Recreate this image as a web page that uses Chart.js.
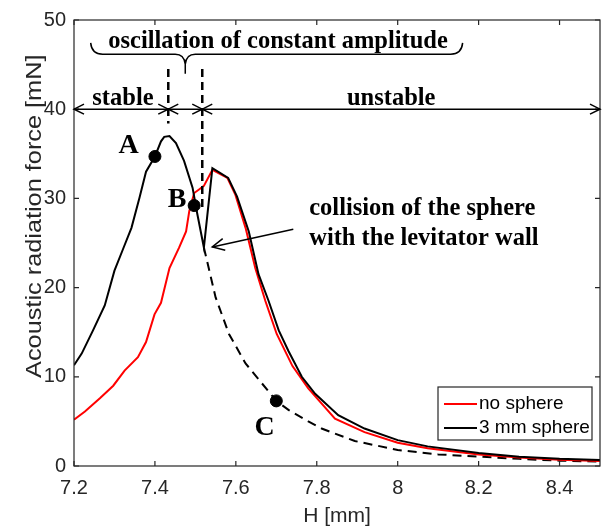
<!DOCTYPE html>
<html><head><meta charset="utf-8">
<script src="https://cdn.jsdelivr.net/npm/chart.js@4.4.1/dist/chart.umd.min.js"></script>
<style>html,body{margin:0;padding:0;background:#fff;overflow:hidden}canvas{display:block}</style>
</head><body>
<canvas id="c" width="607" height="529"></canvas>
<script>
// ---- data ----
const hNoSphere = [7.200,7.227,7.264,7.297,7.325,7.358,7.378,7.399,7.415,7.436,7.460,7.477,7.485,7.497,7.509,7.521,7.542,7.579,7.599,7.624,7.648,7.673,7.701,7.740,7.779,7.845,7.918,8.000,8.074,8.200,8.300,8.400,8.500];
const fNoSphere = [5.2,6.1,7.6,9.0,10.7,12.2,13.9,17.0,18.3,22.2,24.5,26.3,28.6,30.6,31.0,31.4,33.2,32.3,30.4,26.7,22.2,18.5,14.8,11.2,8.7,5.3,3.8,2.6,2.0,1.3,0.95,0.7,0.55];
const hSphere = [7.200,7.219,7.247,7.276,7.300,7.321,7.342,7.362,7.378,7.400,7.415,7.423,7.436,7.452,7.472,7.493,7.505,7.521,7.542,7.581,7.603,7.632,7.656,7.681,7.706,7.730,7.763,7.796,7.853,7.918,8.000,8.074,8.200,8.300,8.400,8.500];
const fSphere = [11.3,12.6,15.2,18.0,21.9,24.3,26.7,30.1,33.0,34.7,36.4,36.9,37.0,36.2,34.2,31.2,28.2,24.5,33.4,32.3,30.2,26.3,21.5,18.5,15.2,12.9,10.0,8.1,5.7,4.2,2.9,2.2,1.45,1.05,0.8,0.68];
const hFreeField = [7.521,7.550,7.583,7.624,7.700,7.730,7.779,7.812,7.894,8.000,8.100,8.200,8.300,8.400,8.500];
const fFreeField = [24.5,18.9,14.8,11.5,7.3,6.3,5.0,4.2,2.8,1.8,1.3,1.05,0.8,0.6,0.5];
const pointNames = ['A','B','C'];
const hPoints = [7.400,7.497,7.700];
const fPoints = [34.7,29.2,7.3];
const xTicks = [7.2,7.4,7.6,7.8,8.0,8.2,8.4];
const xTickLabels = ['7.2','7.4','7.6','7.8','8','8.2','8.4'];
const yTicks = [0,10,20,30,40,50];
const seriesNames = ['no sphere','3 mm sphere'];
const xTitle = 'H [mm]';
const yTitle = 'Acoustic radiation force [mN]';
const regionNames = ['stable','unstable'];
const bracketName = 'oscillation of constant amplitude';
const collisionNote = ['collision of the sphere','with the levitator wall'];
const regionBounds = [7.2, 7.433, 7.517, 8.5];

const pts = (hs, fs) => hs.map((h, i) => ({x: h, y: fs[i]}));
const AX = '#262626';
const SANS = '"Liberation Sans", Arial, sans-serif';
const SERIF = '"Liberation Serif", "Times New Roman", serif';

const deco = {
  id: 'deco',
  afterDatasetsDraw(chart) {
    const {ctx, chartArea: a, scales: {x, y}} = chart;
    const X = v => x.getPixelForValue(v), Y = v => y.getPixelForValue(v);
    ctx.save();
    // axes box + inward ticks
    ctx.strokeStyle = AX; ctx.lineWidth = 1.2; ctx.setLineDash([]);
    ctx.strokeRect(a.left, a.top, a.right - a.left, a.bottom - a.top);
    ctx.beginPath();
    xTicks.forEach(v => { const p = X(v); ctx.moveTo(p, a.bottom); ctx.lineTo(p, a.bottom - 5); ctx.moveTo(p, a.top); ctx.lineTo(p, a.top + 5); });
    yTicks.forEach(v => { const p = Y(v); ctx.moveTo(a.left, p); ctx.lineTo(a.left + 5, p); ctx.moveTo(a.right, p); ctx.lineTo(a.right - 5, p); });
    ctx.stroke();

    // y title (stretched like the reference)
    ctx.save();
    ctx.translate(a.left - 39, Y(28.0));
    ctx.rotate(-Math.PI / 2);
    ctx.scale(1.15, 1);
    ctx.fillStyle = AX; ctx.font = '22px ' + SANS;
    ctx.textAlign = 'center'; ctx.textBaseline = 'middle';
    ctx.fillText(yTitle, 0, 0);
    ctx.restore();

    // annotations
    ctx.strokeStyle = '#000'; ctx.fillStyle = '#000';
    const head = (tx, ty, fx, fy, len, hw) => {
      const ang = Math.atan2(ty - fy, tx - fx);
      const c = Math.cos(ang), s = Math.sin(ang);
      ctx.beginPath();
      ctx.moveTo(tx - c * len - s * hw, ty - s * len + c * hw);
      ctx.lineTo(tx, ty);
      ctx.lineTo(tx - c * len + s * hw, ty - s * len - c * hw);
      ctx.stroke();
    };
    // region arrows at F = 40
    const ya = Y(40);
    ctx.lineWidth = 1.5;
    for (let i = 0; i < 3; i++) {
      const x0 = X(regionBounds[i]), x1 = X(regionBounds[i + 1]);
      ctx.beginPath(); ctx.moveTo(x0, ya); ctx.lineTo(x1, ya); ctx.stroke();
      head(x0, ya, x1, ya, 10, 5);
      head(x1, ya, x0, ya, 10, 5);
    }
    // dashed region boundaries
    ctx.lineWidth = 2.5; ctx.setLineDash([8, 5]);
    ctx.beginPath();
    ctx.moveTo(X(regionBounds[1]), Y(44.5)); ctx.lineTo(X(regionBounds[1]), Y(38.4));
    ctx.moveTo(X(regionBounds[2]), Y(44.5)); ctx.lineTo(X(regionBounds[2]), Y(28.6));
    ctx.stroke();
    ctx.setLineDash([]);

    // curly brace
    const bL = X(7.2412), bR = X(8.1605), bM = X((regionBounds[1] + regionBounds[2]) / 2);
    const yEnd = Y(47.44), yLine = Y(46.17), yTip = Y(43.98);
    ctx.lineWidth = 1.5;
    ctx.beginPath();
    ctx.moveTo(bL, yEnd);
    ctx.quadraticCurveTo(bL + 1, yLine, bL + 12, yLine);
    ctx.lineTo(bM - 10, yLine);
    ctx.quadraticCurveTo(bM - 1, yLine, bM, yLine + 10);
    ctx.lineTo(bM, yTip);
    ctx.moveTo(bM, yLine + 10);
    ctx.quadraticCurveTo(bM + 1, yLine, bM + 10, yLine);
    ctx.lineTo(bR - 12, yLine);
    ctx.quadraticCurveTo(bR - 1, yLine, bR, yEnd);
    ctx.stroke();

    // texts
    ctx.font = 'bold 24.5px ' + SERIF;
    ctx.textBaseline = 'alphabetic'; ctx.textAlign = 'center';
    ctx.fillText(bracketName, X(7.7043), Y(46.9));
    ctx.fillText(regionNames[0], X(7.321), Y(40.45));
    ctx.fillText(regionNames[1], X(7.984), Y(40.45));
    ctx.textAlign = 'left';
    ctx.fillText(collisionNote[0], X(7.7813), Y(28.1));
    ctx.fillText(collisionNote[1], X(7.7813), Y(24.75));

    // collision arrow
    ctx.lineWidth = 1.5;
    const tx = X(7.5417), ty = Y(24.55), fx = X(7.742), fy = Y(26.53);
    ctx.beginPath(); ctx.moveTo(fx, fy); ctx.lineTo(tx, ty); ctx.stroke();
    head(tx, ty, fx, fy, 12, 6);

    // point letters
    ctx.font = 'bold 28px ' + SERIF;
    ctx.textAlign = 'center'; ctx.textBaseline = 'middle';
    const letterPos = [[7.335, 36.05], [7.455, 30.0], [7.671, 4.4]];
    pointNames.forEach((n, i) => ctx.fillText(n, X(letterPos[i][0]), Y(letterPos[i][1]) + 1));

    // legend
    const lx = a.right - 162, ly = a.bottom - 79, lw = 154, lh = 53;
    ctx.fillStyle = '#fff'; ctx.fillRect(lx, ly, lw, lh);
    ctx.strokeStyle = AX; ctx.lineWidth = 1.2; ctx.strokeRect(lx, ly, lw, lh);
    const legendSets = [chart.data.datasets[2], chart.data.datasets[1]];
    ctx.font = '19px ' + SANS; ctx.textAlign = 'left'; ctx.textBaseline = 'middle';
    legendSets.forEach((ds, i) => {
      const yy = ly + 17 + i * 24;
      ctx.strokeStyle = ds.borderColor; ctx.lineWidth = 2;
      ctx.beginPath(); ctx.moveTo(lx + 6, yy); ctx.lineTo(lx + 39, yy); ctx.stroke();
      ctx.fillStyle = '#000';
      ctx.fillText(ds.label, lx + 41, yy);
    });
    ctx.restore();
  }
};

new Chart(document.getElementById('c'), {
  type: 'line',
  data: {
    datasets: [
      {label: 'points', data: pts(hPoints, fPoints), showLine: false, pointRadius: 6, pointBackgroundColor: '#000', pointBorderColor: '#000', borderColor: '#000', order: 0},
      {label: seriesNames[1], data: pts(hSphere, fSphere), borderColor: '#000', borderWidth: 2, pointRadius: 0, tension: 0, order: 1},
      {label: seriesNames[0], data: pts(hNoSphere, fNoSphere), borderColor: '#ff0000', borderWidth: 2, pointRadius: 0, tension: 0, order: 2},
      {label: 'free', data: pts(hFreeField, fFreeField), borderColor: '#000', borderWidth: 2, borderDash: [9, 6], pointRadius: 0, tension: 0, order: 3}
    ]
  },
  options: {
    responsive: false, animation: false, devicePixelRatio: 1,
    layout: {padding: {top: 18, right: 3, left: 0, bottom: 0}},
    plugins: {legend: {display: false}, tooltip: {enabled: false}},
    scales: {
      x: {
        type: 'linear', min: 7.2, max: 8.5,
        afterBuildTicks: s => { s.ticks = xTicks.map(v => ({value: v})); },
        afterFit: s => { s.height = 63; },
        grid: {display: false, drawTicks: false}, border: {display: false},
        ticks: {callback: (v, i) => xTickLabels[i], font: {family: SANS, size: 20}, color: AX, padding: 10, maxRotation: 0, autoSkip: false},
        title: {display: true, text: xTitle, font: {family: SANS, size: 21}, color: AX, padding: {top: 0, bottom: 0}}
      },
      y: {
        type: 'linear', min: 0, max: 50,
        afterBuildTicks: s => { s.ticks = yTicks.map(v => ({value: v})); },
        afterFit: s => { s.width = 74; },
        grid: {display: false, drawTicks: false}, border: {display: false},
        ticks: {font: {family: SANS, size: 20}, color: AX, padding: 8}
      }
    }
  },
  plugins: [deco]
});
</script>
</body></html>
